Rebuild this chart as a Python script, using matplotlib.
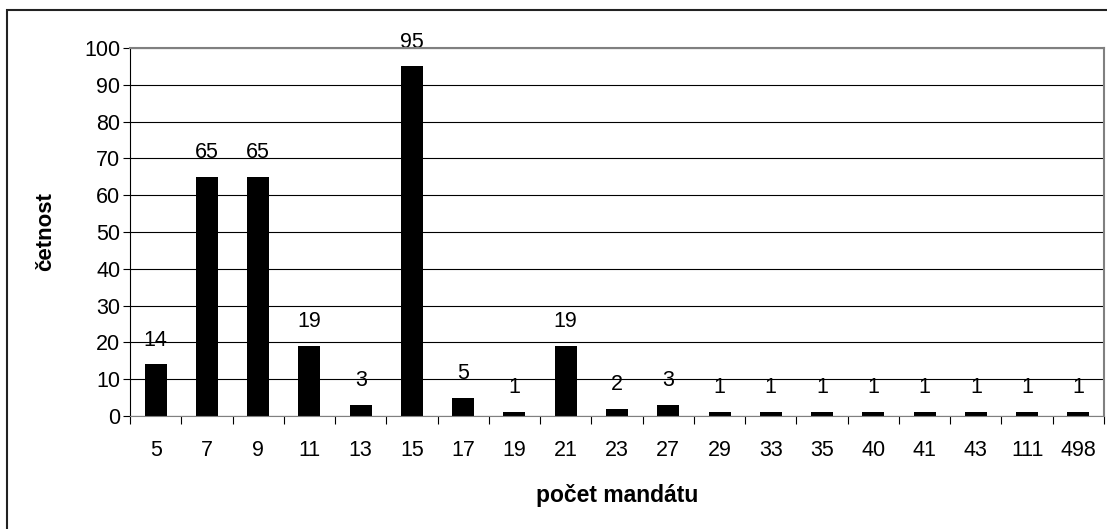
import matplotlib.pyplot as plt
from matplotlib.patches import Rectangle
import numpy as np

plt.rcParams['font.family'] = ['Liberation Sans', 'DejaVu Sans']

mandaty = ['5', '7', '9', '11', '13', '15', '17', '19', '21', '23', '27',
           '29', '33', '35', '40', '41', '43', '111', '498']
cetnost = [14, 65, 65, 19, 3, 95, 5, 1, 19, 2, 3, 1, 1, 1, 1, 1, 1, 1, 1]

W, H = 1107, 529
fs = 15.5
fig = plt.figure(figsize=(W / 100, H / 100), dpi=100)
# plot area in pixels: left 130, right 1104, top 48, bottom 416
ax = fig.add_axes([130 / W, 1 - 416 / H, (1104 - 130) / W, (416 - 48) / H])

x = np.arange(len(mandaty))
ax.bar(x, cetnost, width=0.43, color='black', zorder=3)
for xi, v in zip(x, cetnost):
    ax.annotate(str(v), (xi, v), xytext=(0, 10), textcoords='offset points',
                ha='center', va='bottom', fontsize=fs)

ax.set_xlim(-0.5, len(mandaty) - 0.5)
ax.set_ylim(0, 100)
ax.set_yticks(range(0, 101, 10))
ax.set_xticks(x)
ax.set_xticklabels(mandaty, fontsize=fs)
ax.set_xticks(np.arange(-0.5, len(mandaty), 1), minor=True)
ax.tick_params(axis='x', which='major', length=0, pad=17)
ax.tick_params(axis='x', which='minor', length=6, width=0.8, color='black')
ax.tick_params(axis='y', labelsize=fs, length=5, width=0.8, pad=2)
ax.yaxis.grid(True, color='black', linewidth=0.8, zorder=0)

for s in ['top', 'right']:
    ax.spines[s].set_color('#808080')
    ax.spines[s].set_linewidth(1.5)
    ax.spines[s].set_zorder(4)
ax.spines['left'].set_color('black')
ax.spines['bottom'].set_color('#808080')
ax.spines['bottom'].set_zorder(4)

ax.set_ylabel('četnost', fontsize=16, fontweight='bold', labelpad=20)
ax.set_xlabel('počet mandátu', fontsize=16.5, fontweight='bold', labelpad=17)

# outer chart frame: only left and top edges fall inside the image
fig.patches.append(Rectangle((7 / W, -0.1), 1.1, 1.1 - 10 / H, transform=fig.transFigure,
                             fill=False, edgecolor='#222222', linewidth=1.5))

fig.savefig('out.png', dpi=100)
